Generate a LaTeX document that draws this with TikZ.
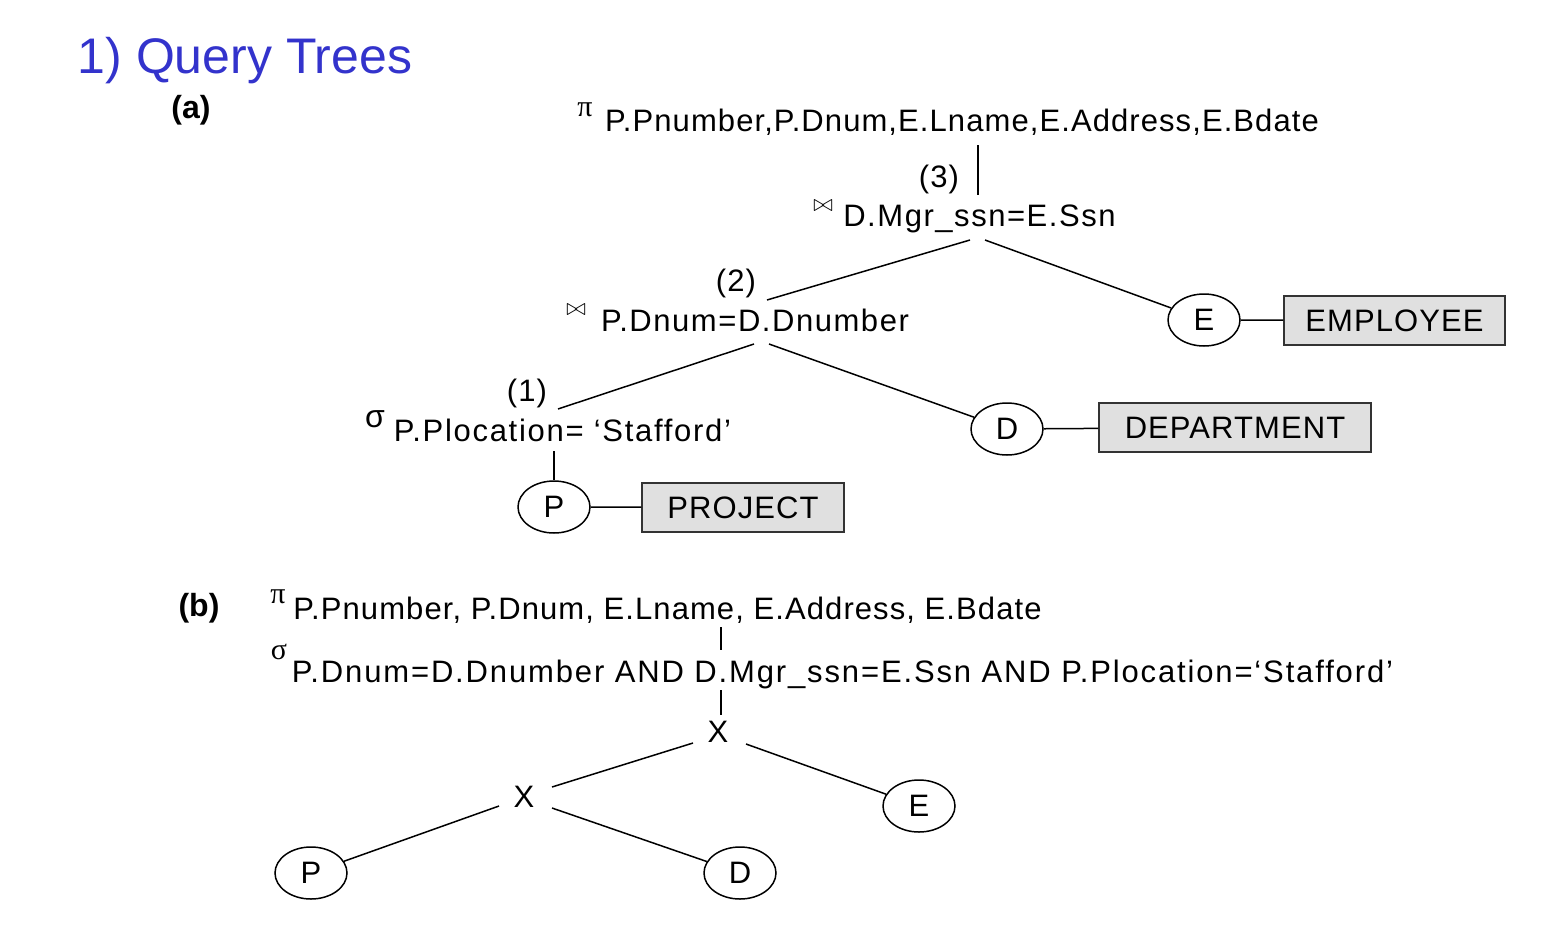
\documentclass[tikz,border=0pt]{standalone}
\usepackage{fontspec}
\setmainfont{Liberation Sans}[LetterSpace=3.5]
\newfontfamily\titlefont{Liberation Sans}
\newfontfamily\serifgreek{Liberation Serif}
\usetikzlibrary{shapes.geometric}
\definecolor{titleblue}{RGB}{51,51,204}
\definecolor{boxgray}{RGB}{224,224,224}
\begin{document}
\begin{tikzpicture}[x=0.5pt,y=-0.5pt,line width=0.75pt,
  lbl/.style={inner sep=0pt,font=\fontsize{15.5}{17}\selectfont},
  txt/.style={lbl,anchor=base},
  sym/.style={inner sep=0pt,font=\serifgreek\fontsize{15}{15}\selectfont},
  bsym/.style={inner sep=0pt,font=\fontsize{12}{12}\selectfont},
  bold/.style={inner sep=0pt,font=\titlefont\fontsize{16}{17}\selectfont\bfseries},
  rel/.style={ellipse,draw,minimum width=36pt,minimum height=26pt,inner sep=0pt,lbl},
  tbl/.style={draw=black!80,fill=boxgray,minimum height=24.5pt,inner sep=0pt,lbl},
  edge/.style={draw,line width=0.75pt}]
\useasboundingbox (0,0) rectangle (1568,926);
% title
\node[anchor=base west,inner sep=0pt,text=titleblue,font=\titlefont\fontsize{25}{28}\selectfont] (title) at (77,73) {1) Query Trees};
% ---------------- (a) ----------------
\node[bold] (la) at (191,110) {(a)};
\node[sym] (pia) at (585,110) {π};
\node[txt] (proja) at (962,131) {P.Pnumber,P.Dnum,E.Lname,E.Address,E.Bdate};
\node[lbl] (n3) at (939,179) {(3)};
\node[bsym] (bt3) at (823,206) {$\bowtie$};
\node[txt] (join3) at (979.5,226) {\addfontfeatures{LetterSpace=5}D.Mgr\_ssn=E.Ssn};
\node[lbl] (n2) at (736,283) {(2)};
\node[bsym] (bt2) at (576,310) {$\bowtie$};
\node[txt] (join2) at (755,331) {\addfontfeatures{LetterSpace=5}P.Dnum=D.Dnumber};
\node[lbl] (n1) at (527,393) {(1)};
\node[inner sep=0pt,font=\titlefont\fontsize{16}{16}\selectfont] (siga) at (375,419) {σ};
\node[txt] (sela) at (562.5,441) {\addfontfeatures{LetterSpace=5.5}P.Plocation= ‘Stafford’};
\node[rel] (Pa) at (554,507) {P};
\node[rel] (Da) at (1007,429) {D};
\node[rel] (Ea) at (1204,320) {E};
\node[tbl,minimum width=101pt] (project) at (743,507.5) {PROJECT};
\node[tbl,minimum width=136pt] (department) at (1235,427.5) {DEPARTMENT};
\node[tbl,minimum width=110.5pt] (employee) at (1394.5,320.5) {EMPLOYEE};
\coordinate (p3t) at (978,145);
\coordinate (p3b) at (978,195);
\coordinate (j3l) at (970,240);
\coordinate (j2t) at (767,300);
\coordinate (j3r) at (985,240);
\coordinate (j2l) at (754,344);
\coordinate (s1t) at (558,409);
\coordinate (j2r) at (769,344);
\coordinate (s1b) at (554,451);
\draw[edge] (p3t) -- (p3b);
\draw[edge] (j3l) -- (j2t);
\draw[edge] (j3r) -- (Ea);
\draw[edge] (j2l) -- (s1t);
\draw[edge] (j2r) -- (Da);
\draw[edge] (s1b) -- (Pa);
\draw[edge] (Pa) -- (project);
\draw[edge] (Da) -- (department);
\draw[edge] (Ea) -- (employee);
% ---------------- (b) ----------------
\node[bold] (lb) at (199,608) {(b)};
\node[sym] (pib) at (278,597) {π};
\node[txt] (projb) at (667.5,619) {P.Pnumber, P.Dnum, E.Lname, E.Address, E.Bdate};
\node[sym] (sigb) at (279,652) {σ};
\node[txt] (selb) at (842.5,682) {\addfontfeatures{LetterSpace=6}P.Dnum=D.Dnumber AND D.Mgr\_ssn=E.Ssn AND P.Plocation=‘Stafford’};
\node[lbl] (x1) at (718,732) {X};
\node[lbl] (x2) at (524,797) {X};
\node[rel] (Eb) at (919,806) {E};
\node[rel] (Pb) at (311,873) {P};
\node[rel] (Db) at (740,873) {D};
\coordinate (pbt) at (721,627);
\coordinate (pbb) at (721,650);
\coordinate (sbt) at (721,690);
\coordinate (sbb) at (721,715);
\coordinate (x1l) at (693,743);
\coordinate (x2t) at (552,787);
\coordinate (x1r) at (746,744);
\coordinate (x2l) at (499,806);
\coordinate (x2r) at (552,808);
\draw[edge] (pbt) -- (pbb);
\draw[edge] (sbt) -- (sbb);
\draw[edge] (x1l) -- (x2t);
\draw[edge] (x1r) -- (Eb);
\draw[edge] (x2l) -- (Pb);
\draw[edge] (x2r) -- (Db);
\end{tikzpicture}
\end{document}
